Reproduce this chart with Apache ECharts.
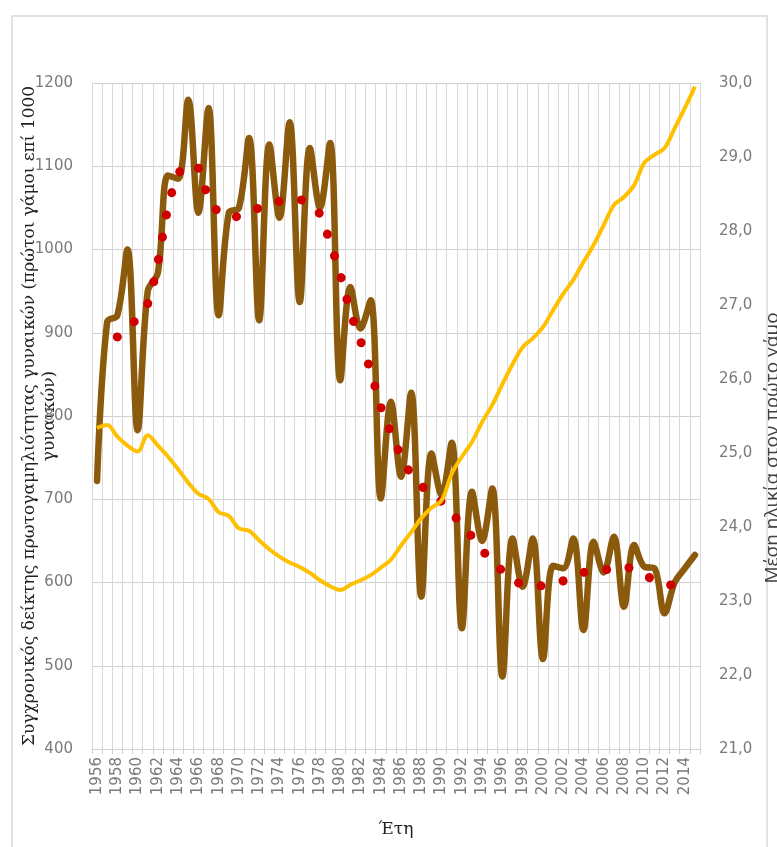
<!DOCTYPE html>
<html>
<head>
<meta charset="utf-8">
<script src="https://cdn.jsdelivr.net/npm/echarts@6/dist/echarts.min.js"></script>
<style>
html,body{margin:0;padding:0;background:#fff;}
#c{width:777px;height:847px;}
</style>
</head>
<body>
<div id="c"></div>
<script>
var years = ['1956','1957','1958','1959','1960','1961','1962','1963','1964','1965',
'1966','1967','1968','1969','1970','1971','1972','1973','1974','1975',
'1976','1977','1978','1979','1980','1981','1982','1983','1984','1985',
'1986','1987','1988','1989','1990','1991','1992','1993','1994','1995',
'1996','1997','1998','1999','2000','2001','2002','2003','2004','2005',
'2006','2007','2008','2009','2010','2011','2012','2013','2014','2015'];

var firstMarriageIndex = [722,913,921,1000,783,950,972,1089,1085,1180,
1044,1170,921,1044,1050,1134,915,1126,1038,1153,
937,1122,1050,1128,843,955,905,939,701,817,
727,828,583,755,705,768,545,709,650,713,
487,653,595,653,508,620,617,653,543,649,
612,655,571,645,619,617,563,600,617,633];

var movingAverage = [null,null,895,905,918,935,985,1050,1090,1102,
1098,1062,1045,1039,1040,1045,1050,1055,1058,1061,
1060,1055,1042,1008,970,925,890,854,811,780,
752,730,716,707,697,683,670,655,639,625,
614,603,598,596,596,599,602,607,612,614,
615,617,619,615,609,603,598,597,null,null];

var meanAge = [25.34,25.38,25.22,25.10,25.02,25.24,25.10,24.95,24.78,24.60,
24.45,24.38,24.20,24.15,23.98,23.95,23.82,23.70,23.60,23.52,
23.46,23.38,23.28,23.20,23.15,23.22,23.28,23.35,23.45,23.56,
23.75,23.93,24.12,24.26,24.36,24.72,24.95,25.15,25.42,25.65,
25.93,26.20,26.43,26.55,26.70,26.93,27.15,27.34,27.58,27.81,
28.08,28.35,28.46,28.62,28.92,29.03,29.12,29.39,29.66,29.95];

var leftTitle = 'Συγχρονικός δείκτης πρωτογαμηλιότητας γυναικών (πρώτοι γάμοι επί 1000\nγυναικών)';
var rightTitle = 'Μέση ηλικία στον πρώτο γάμο';
var xTitle = 'Έτη';

var chart = echarts.init(document.getElementById('c'), null, {renderer:'canvas'});
var labelStyle = {color:'#7a7a7a', fontFamily:'DejaVu Sans', fontSize:15};
chart.setOption({
  backgroundColor:'#ffffff',
  animation:false,
  grid:{left:92, right:77, top:83, bottom:98, containLabel:false, outerBoundsMode:'none'},
  graphic:[
    {type:'rect', shape:{x:12, y:16, width:755, height:845}, style:{fill:'none', stroke:'#d9d9d9', lineWidth:1.5}, silent:true, z:-10},
    {type:'text', x:773, y:448, rotation:Math.PI/2, style:{text:rightTitle, fill:'#404040', font:'19px "Open Sans"', align:'center', verticalAlign:'middle'}}
  ],
  xAxis:{
    type:'category', data:years, boundaryGap:true,
    name:xTitle, nameLocation:'middle', nameGap:72, nameMoveOverlap:false,
    nameTextStyle:{color:'#222', fontFamily:'DejaVu Serif', fontSize:17},
    axisLine:{lineStyle:{color:'#d0d0d0', width:1}},
    axisTick:{show:true, interval:0, length:5, lineStyle:{color:'#d0d0d0'}},
    axisLabel:Object.assign({interval:1, rotate:90, margin:8}, labelStyle),
    splitLine:{show:true, interval:0, lineStyle:{color:'#d9d9d9', width:1}}
  },
  yAxis:[
    {type:'value', min:400, max:1200, interval:100,
     name:leftTitle, nameLocation:'middle', nameGap:32, nameRotate:90, nameMoveOverlap:false,
     nameTextStyle:{color:'#222', fontFamily:'DejaVu Serif', fontSize:17, lineHeight:20, align:'center'},
     axisLine:{show:false}, axisTick:{show:false},
     axisLabel:Object.assign({margin:19, formatter:function(v){return String(v);}}, labelStyle),
     splitLine:{show:true, lineStyle:{color:'#d0d0d0', width:1}}},
    {type:'value', min:21, max:30, interval:1, position:'right',
     axisLine:{show:false}, axisTick:{show:false},
     axisLabel:Object.assign({margin:19, formatter:function(v){return v.toFixed(1).replace('.',',');}}, labelStyle),
     splitLine:{show:false}}
  ],
  series:[
    {name:'index', type:'line', data:firstMarriageIndex, yAxisIndex:0, smooth:0.35,
     showSymbol:false, symbol:'none', lineStyle:{color:'#8b5a0c', width:6.5, cap:'round', join:'round'}, z:2},
    {name:'ma', type:'line', data:movingAverage, yAxisIndex:0, smooth:0.35,
     showSymbol:false, symbol:'none', lineStyle:{color:'#d10000', width:9, type:[0.1,22.6], cap:'round'}, z:3},
    {name:'age', type:'line', data:meanAge, yAxisIndex:1, smooth:0.35,
     showSymbol:false, symbol:'none', lineStyle:{color:'#ffc000', width:4}, z:4}
  ]
});
</script>
</body>
</html>
